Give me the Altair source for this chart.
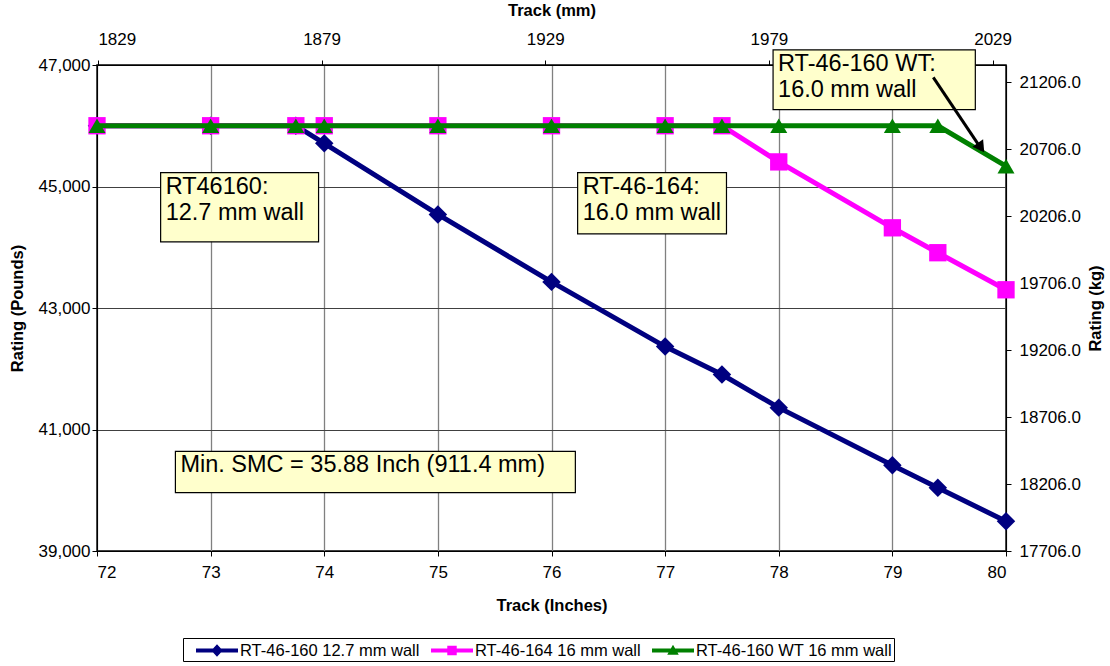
import altair as alt
import pandas as pd

# ---------------- data ----------------
series_names = ["RT-46-160 12.7 mm wall", "RT-46-164 16 mm wall", "RT-46-160 WT 16 mm wall"]
series_colors = ["#000080", "#FF00FF", "#008000"]
series_shapes = ["diamond", "square", "triangle-up"]
series_sizes = [340, 300, 290]

track_in = [72, 73, 73.75, 74, 75, 76, 77, 77.5, 78, 79, 79.4, 80]
rt160 = [46000, 46000, 46000, 45710, 44540, 43430, 42365, 41905, 41360, 40410, 40040, 39490]
rt164 = [46000, 46000, 46000, 46000, 46000, 46000, 46000, 46000, 45405, 44320, 43910, 43300]
rt160wt = [46000, 46000, 46000, 46000, 46000, 46000, 46000, 46000, 46000, 46000, 46000, 45335]

# annotation boxes (data units: inches / pounds)
box_text = ["RT46160:\n12.7 mm wall", "RT-46-164:\n16.0 mm wall",
            "RT-46-160 WT:\n16.0 mm wall", "Min. SMC = 35.88 Inch (911.4 mm)"]
box_x1 = [72.56, 76.23, 77.95, 72.69]
box_x2 = [73.95, 77.54, 79.73, 76.21]
box_y1 = [45230, 45230, 47250, 40640]
box_y2 = [44090, 44220, 46265, 39960]

arrow_x = [79.36, 79.79]
arrow_y = [46796, 45600]
arrow_head_x = [79.78]
arrow_head_y = [45640]

mm_ticks = [1829, 1879, 1929, 1979, 2029]
kg_ticks = [17706, 18206, 18706, 19206, 19706, 20206, 20706, 21206]
lb_ticks = [39000, 41000, 43000, 45000, 47000]
in_ticks = [72, 73, 74, 75, 76, 77, 78, 79, 80]

FONT = "Liberation Sans"

# legend symbols: line segment with the series marker (path units scaled by sqrt(size)/2)
legend_paths = [
    "M-2,-0.19L2,-0.19L2,0.19L-2,0.19Z M0,-0.6L0.55,0L0,0.6L-0.55,0Z",
    "M-2,-0.19L2,-0.19L2,0.19L-2,0.19Z M-0.45,-0.45L0.45,-0.45L0.45,0.45L-0.45,0.45Z",
    "M-2,-0.19L2,-0.19L2,0.19L-2,0.19Z M0,-0.55L0.55,0.4L-0.55,0.4Z",
]

# ---------------- frames ----------------
rows = []
for name, vals in zip(series_names, [rt160, rt164, rt160wt]):
    for i, (x, y) in enumerate(zip(track_in, vals)):
        rows.append({"series": name, "x": x, "y": y, "i": i})
df = pd.DataFrame(rows)

boxes = pd.DataFrame({"x": box_x1, "x2": box_x2, "y": box_y1, "y2": box_y2, "t": box_text})
arrow = pd.DataFrame({"x": arrow_x, "y": arrow_y})
arrow_head = pd.DataFrame({"x": arrow_head_x, "y": arrow_head_y})

xscale = alt.Scale(domain=[72, 80], nice=False, zero=False)
yscale = alt.Scale(domain=[39000, 47000], nice=False, zero=False)

x_axis = alt.Axis(values=in_ticks, format="d", title="Track (Inches)", grid=True,
                  gridColor="#808080", gridWidth=1.3, labelFontSize=17, labelFont=FONT,
                  titleFont=FONT, titleFontSize=16.5, titleFontWeight="bold", titleColor="black",
                  labelColor="black", tickColor="black", domainColor="black", tickSize=5,
                  labelPadding=8, titleX=454.5, titleY=54, titleAlign="center",
                  titleBaseline="middle")
y_axis = alt.Axis(values=lb_ticks, format=",d", title="Rating (Pounds)", grid=True,
                  gridColor="#404040", gridWidth=1, labelFontSize=17, labelFont=FONT,
                  titleFont=FONT, titleFontSize=16.5, titleFontWeight="bold", titleColor="black",
                  labelColor="black", tickColor="black", domainColor="black", tickSize=5,
                  labelPadding=2, titleX=-80, titleY=243, titleAngle=270, titleAlign="center",
                  titleBaseline="middle")

def X(field="x"):
    return alt.X(f"{field}:Q", scale=xscale, axis=x_axis)

def Y(field="y"):
    return alt.Y(f"{field}:Q", scale=yscale, axis=y_axis)

layers = []
for name, col, shp, sz in zip(series_names, series_colors, series_shapes, series_sizes):
    base = alt.Chart(df).transform_filter(alt.datum.series == name)
    ln = base.mark_line(strokeWidth=5, color=col, clip=False).encode(x=X(), y=Y(), order="i:Q")
    pt = base.mark_point(filled=True, opacity=1, size=sz, shape=shp, color=col,
                         strokeWidth=0, clip=False).encode(x=X(), y=Y())
    layers += [ln, pt]

last_label = series_names[-1]
pad = "\u00a0" * 14
legend_cfg = dict(title=None, orient="none", legendX=86, legendY=573,
                  direction="horizontal", columns=3, labelFont=FONT,
                  labelFontSize=16.5, labelColor="black", strokeColor="black",
                  fillColor="white", padding=2, columnPadding=-7,
                  symbolSize=441, symbolStrokeWidth=0, labelLimit=500,
                  labelOffset=12.5, symbolOffset=21.5,
                  labelExpr=f"datum.label == '{last_label}' ? datum.label + '{pad}' : datum.label")

# legend-only layer (no visible marks)
legend_layer = alt.Chart(df).transform_filter("false").mark_point(
    filled=True, opacity=1, strokeWidth=0).encode(
    x=X(), y=Y(),
    color=alt.Color("series:N", scale=alt.Scale(domain=series_names, range=series_colors),
                    legend=alt.Legend(**legend_cfg)),
    shape=alt.Shape("series:N", scale=alt.Scale(domain=series_names, range=legend_paths),
                    legend=alt.Legend(**legend_cfg)),
)

rects = alt.Chart(boxes).mark_rect(fill="#FFFFCC", stroke="black", strokeWidth=1.2, clip=False).encode(
    x=X(), x2="x2:Q", y=Y(), y2="y2:Q")
texts = alt.Chart(boxes).mark_text(align="left", baseline="top", font=FONT, fontSize=23.5,
                                    lineBreak="\n", lineHeight=26, dx=5, dy=2, color="black",
                                    clip=False).encode(
    x=X(), y=Y(), text="t:N")
arrow_line = alt.Chart(arrow).mark_line(color="black", strokeWidth=3, clip=False).encode(x=X(), y=Y())
arrow_tip = alt.Chart(arrow_head).mark_point(shape="triangle-up", filled=True, color="black",
                                            opacity=1, size=170, angle=145, strokeWidth=0,
                                            clip=False).encode(x=X(), y=Y())

main = alt.layer(*layers, legend_layer, rects, texts, arrow_line, arrow_tip)

sec_df = pd.DataFrame({"mm": [1828.8, 2032.0], "kg": [17706, 21334.7]})
secondary = alt.Chart(sec_df).mark_point(opacity=0).encode(
    x=alt.X("mm:Q", scale=alt.Scale(domain=[1828.8, 2032.0], nice=False, zero=False),
            axis=alt.Axis(orient="top", values=mm_ticks, format="d", title="Track (mm)", grid=False,
                          labelFontSize=17, labelFont=FONT, titleFont=FONT, titleFontSize=16.5,
                          titleFontWeight="bold", titleColor="black", labelColor="black",
                          tickColor="black", domainColor="black", tickSize=5,
                          labelPadding=12, titleX=454.5, titleY=-55, titleAlign="center",
                          titleBaseline="middle")),
    y=alt.Y("kg:Q", scale=alt.Scale(domain=[17706, 21334.7], nice=False, zero=False),
            axis=alt.Axis(orient="right", values=kg_ticks, format=".1f", title="Rating (kg)", grid=False,
                          labelFontSize=17, labelFont=FONT, titleFont=FONT, titleFontSize=16.5,
                          titleFontWeight="bold", titleColor="black", labelColor="black",
                          tickColor="black", domainColor="black", tickSize=5, labelPadding=8,
                          titleX=89, titleY=243, titleAngle=270, titleAlign="center",
                          titleBaseline="middle")),
)

chart = alt.layer(main, secondary).resolve_scale(x="independent", y="independent").properties(
    width=909, height=486,
    autosize=alt.AutoSizeParams(type="none"),
    padding={"left": 97, "top": 65, "right": 104, "bottom": 115},
    background="white",
).configure_view(stroke="black", strokeWidth=1.5)

chart.save("out.html", embed_options={"renderer": "svg", "actions": False})
